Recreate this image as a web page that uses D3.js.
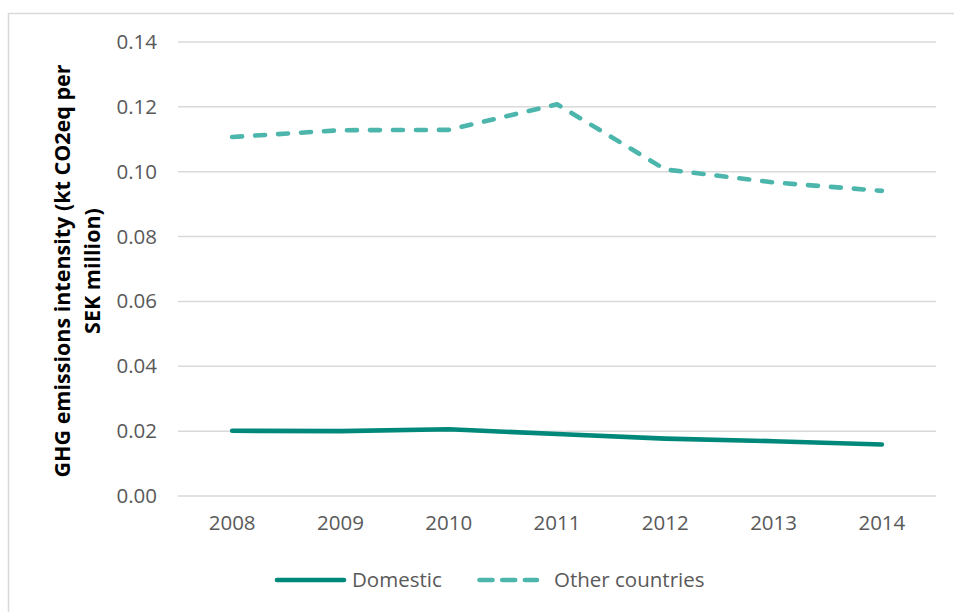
<!DOCTYPE html>
<html>
<head>
<meta charset="utf-8">
<script src="https://cdn.jsdelivr.net/npm/d3@7/dist/d3.min.js"></script>
<style>
  html, body { margin: 0; padding: 0; background: #fff; }
  svg { display: block; font-family: "Open Sans", "Noto Sans", sans-serif; }
</style>
</head>
<body>
<svg id="chart" width="954" height="612"></svg>
<script>
// GHG emissions intensity by year, kt CO2eq per SEK million
const years = ["2008", "2009", "2010", "2011", "2012", "2013", "2014"];
const domestic = [0.0201, 0.0200, 0.0206, 0.0191, 0.0177, 0.0169, 0.0159];
const otherCountries = [0.1107, 0.1128, 0.1129, 0.1208, 0.1007, 0.0967, 0.0941];
const yTicks = [0, 0.02, 0.04, 0.06, 0.08, 0.10, 0.12, 0.14];
const seriesNames = ["Domestic", "Other countries"];

const svg = d3.select("#chart");
const margin = { left: 178, right: 18, top: 42, bottom: 116 };
const W = 954, H = 612;
const fontSize = "20.5px";

// chart frame
svg.append("rect")
  .attr("x", 8.5).attr("y", 13.5)
  .attr("width", 1000).attr("height", 700)
  .attr("fill", "none").attr("stroke", "#d9d9d9").attr("stroke-width", 1.5);

const x = d3.scaleBand().domain(years).range([margin.left, W - margin.right]);
const y = d3.scaleLinear().domain([0, 0.14]).range([H - margin.bottom, margin.top]);

// gridlines
svg.append("g").selectAll("line").data(yTicks).join("line")
  .attr("x1", margin.left).attr("x2", W - margin.right)
  .attr("y1", d => y(d)).attr("y2", d => y(d))
  .attr("stroke", "#d9d9d9").attr("stroke-width", 1.5);

// y axis labels
const yAxis = svg.append("g")
  .attr("transform", `translate(${margin.left - 21},0)`)
  .call(d3.axisLeft(y).tickValues(yTicks).tickFormat(d3.format(".2f")).tickSize(0).tickPadding(0));
yAxis.select(".domain").remove();
yAxis.selectAll("text").attr("fill", "#595959").style("font-size", fontSize)
  .style("font-family", "Open Sans, sans-serif");

// x axis labels
const xAxis = svg.append("g")
  .attr("transform", `translate(0,${H - margin.bottom})`)
  .call(d3.axisBottom(x).tickSize(0).tickPadding(19));
xAxis.select(".domain").remove();
xAxis.selectAll("text").attr("fill", "#595959").style("font-size", fontSize)
  .style("font-family", "Open Sans, sans-serif");

// y axis title (two lines)
const title = svg.append("text")
  .attr("transform", `translate(62,${(margin.top + H - margin.bottom) / 2 + 2}) rotate(-90)`)
  .attr("text-anchor", "middle")
  .attr("font-weight", "bold").attr("font-size", "21.5px").attr("fill", "#000");
title.append("tspan").attr("x", 0).attr("dy", "0.35em").text("GHG emissions intensity (kt CO2eq per");
title.append("tspan").attr("x", 0).attr("dy", "1.4em").text("SEK million)");

const line = d3.line()
  .x((d, i) => x(years[i]) + x.bandwidth() / 2)
  .y(d => y(d));

const colors = ["#00897b", "#4db6ac"];

svg.append("path").datum(domestic)
  .attr("d", line).attr("fill", "none")
  .attr("stroke", colors[0]).attr("stroke-width", 4.6)
  .attr("stroke-linecap", "round").attr("stroke-linejoin", "round");

svg.append("path").datum(otherCountries)
  .attr("d", line).attr("fill", "none")
  .attr("stroke", colors[1]).attr("stroke-width", 4.6)
  .attr("stroke-dasharray", "10,13")
  .attr("stroke-linecap", "round").attr("stroke-linejoin", "round");

// legend
const legend = svg.append("g");
const legendItems = [
  { name: seriesNames[0], x1: 277, x2: 344, tx: 352, dash: null, color: colors[0] },
  { name: seriesNames[1], x1: 479.5, x2: 537, tx: 554, dash: "13,9.7", color: colors[1] }
];
legendItems.forEach(it => {
  legend.append("line")
    .attr("x1", it.x1).attr("x2", it.x2).attr("y1", 580).attr("y2", 580)
    .attr("stroke", it.color).attr("stroke-width", 4.6)
    .attr("stroke-linecap", "round")
    .attr("stroke-dasharray", it.dash);
  legend.append("text")
    .attr("x", it.tx).attr("y", 580).attr("dy", "0.35em")
    .attr("fill", "#595959").attr("font-size", fontSize)
    .text(it.name);
});
</script>
</body>
</html>
